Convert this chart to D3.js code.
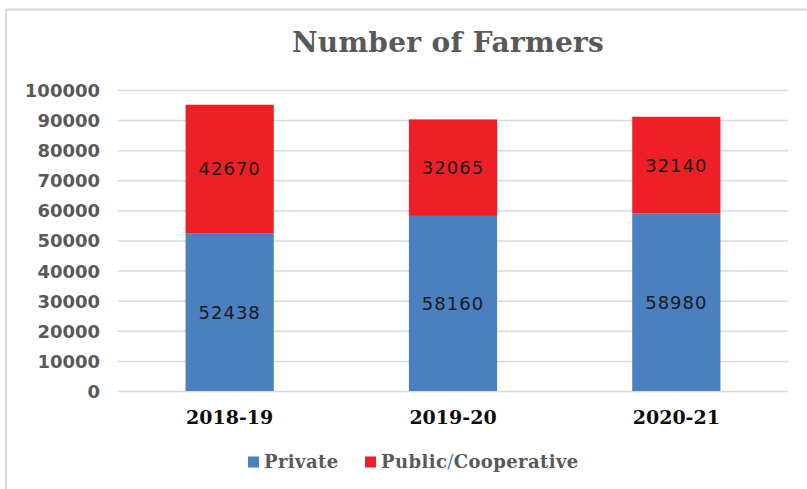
<!DOCTYPE html>
<html>
<head>
<meta charset="utf-8">
<script src="https://cdn.jsdelivr.net/npm/d3@7/dist/d3.min.js"></script>
<style>
  body { margin: 0; background: #fff; }
  svg { display: block; }
</style>
</head>
<body>
<svg id="chart" width="807" height="489"></svg>
<script>
// chart values
var years = ["2018-19", "2019-20", "2020-21"];
var privateFarmers = [52438, 58160, 58980];
var publicFarmers = [42670, 32065, 32140];
var seriesNames = ["Private", "Public/Cooperative"];
var yTicks = [0, 10000, 20000, 30000, 40000, 50000, 60000, 70000, 80000, 90000, 100000];

var colors = ["#4a7fc0", "#ee1f26"];
var gray = "#595959";

var svg = d3.select("#chart");

// frame (top + left edges like the cropped original)
svg.append("line").attr("x1", 5).attr("x2", 807).attr("y1", 9.5).attr("y2", 9.5)
	.attr("stroke", "#d9d9d9").attr("stroke-width", 2);
svg.append("line").attr("x1", 6).attr("x2", 6).attr("y1", 9).attr("y2", 489)
	.attr("stroke", "#d9d9d9").attr("stroke-width", 2);

var x = d3.scaleBand().domain(years).range([118, 788]).paddingInner(0.605).paddingOuter(0.3025);
var y = d3.scaleLinear().domain([0, 100000]).range([391, 90]);

// gridlines
svg.append("g").selectAll("line").data(yTicks).enter().append("line")
	.attr("x1", 118).attr("x2", 788)
	.attr("y1", function(d) { return y(d) + 0.5; })
	.attr("y2", function(d) { return y(d) + 0.5; })
	.attr("stroke", "#d9d9d9").attr("stroke-width", 1.5);

// y axis labels
var yAxis = svg.append("g").attr("transform", "translate(108,0)")
	.call(d3.axisLeft(y).tickValues(yTicks).tickSize(0).tickPadding(0).tickFormat(d3.format("d")));
yAxis.select(".domain").remove();
yAxis.selectAll("text")
	.attr("x", -8).attr("dy", "0.36em")
	.style("font-family", "'DejaVu Sans', Verdana, sans-serif")
	.style("font-weight", "bold").style("font-size", "18px")
	.attr("fill", gray);

// stacked data
var rows = years.map(function(yr, i) {
	return { year: yr, Private: privateFarmers[i], "Public/Cooperative": publicFarmers[i] };
});
var stacked = d3.stack().keys(seriesNames)(rows);

var layers = svg.append("g").selectAll("g").data(stacked).enter().append("g")
	.attr("fill", function(d, i) { return colors[i]; });

layers.selectAll("rect").data(function(d) { return d; }).enter().append("rect")
	.attr("x", function(d) { return x(d.data.year); })
	.attr("width", x.bandwidth())
	.attr("y", function(d) { return y(d[1]); })
	.attr("height", function(d) { return y(d[0]) - y(d[1]); });

// value labels
layers.selectAll("text").data(function(d) { return d; }).enter().append("text")
	.attr("x", function(d) { return x(d.data.year) + x.bandwidth() / 2; })
	.attr("y", function(d) { return (y(d[0]) + y(d[1])) / 2; })
	.attr("dy", "0.36em")
	.attr("text-anchor", "middle")
	.style("font-family", "'DejaVu Sans', Verdana, sans-serif")
	.style("font-size", "18px").style("letter-spacing", "1px")
	.attr("fill", "#1a1a1a")
	.text(function(d) { return d[1] - d[0]; });

// x axis labels
var xAxis = svg.append("g").attr("transform", "translate(0,391)")
	.call(d3.axisBottom(x).tickSize(0).tickPadding(0));
xAxis.select(".domain").remove();
xAxis.selectAll("text")
	.attr("y", 33).attr("dy", 0)
	.style("font-family", "'DejaVu Serif', serif")
	.style("font-weight", "bold").style("font-size", "19px")
	.attr("fill", "#0d0d0d");

// title
svg.append("text").attr("x", 448).attr("y", 52).attr("text-anchor", "middle")
	.style("font-family", "'DejaVu Serif', serif").style("font-weight", "bold")
	.style("font-size", "28px").style("letter-spacing", "0.3px").attr("fill", gray)
	.text("Number of Farmers");

// legend
var legendX = [248, 365];
var legend = svg.append("g").selectAll("g").data(seriesNames).enter().append("g")
	.attr("transform", function(d, i) { return "translate(" + legendX[i] + ",462)"; });
legend.append("rect").attr("x", 0).attr("y", -5.5).attr("width", 11).attr("height", 11)
	.attr("fill", function(d, i) { return colors[i]; });
var legendText = legend.append("text").attr("x", 16).attr("dy", "0.36em")
	.style("font-family", "'DejaVu Serif', serif").style("font-weight", "bold")
	.style("font-size", "18px").style("letter-spacing", "0.4px").attr("fill", gray);
legendText.each(function(d) {
	var t = d3.select(this);
	var parts = d.split("/");
	t.append("tspan").text(parts[0]);
	if (parts.length > 1) {
		// the slash shows up blue in the original
		t.append("tspan").attr("fill", colors[0]).style("font-weight", "normal").text("/");
		t.append("tspan").text(parts[1]);
	}
});
</script>
</body>
</html>
